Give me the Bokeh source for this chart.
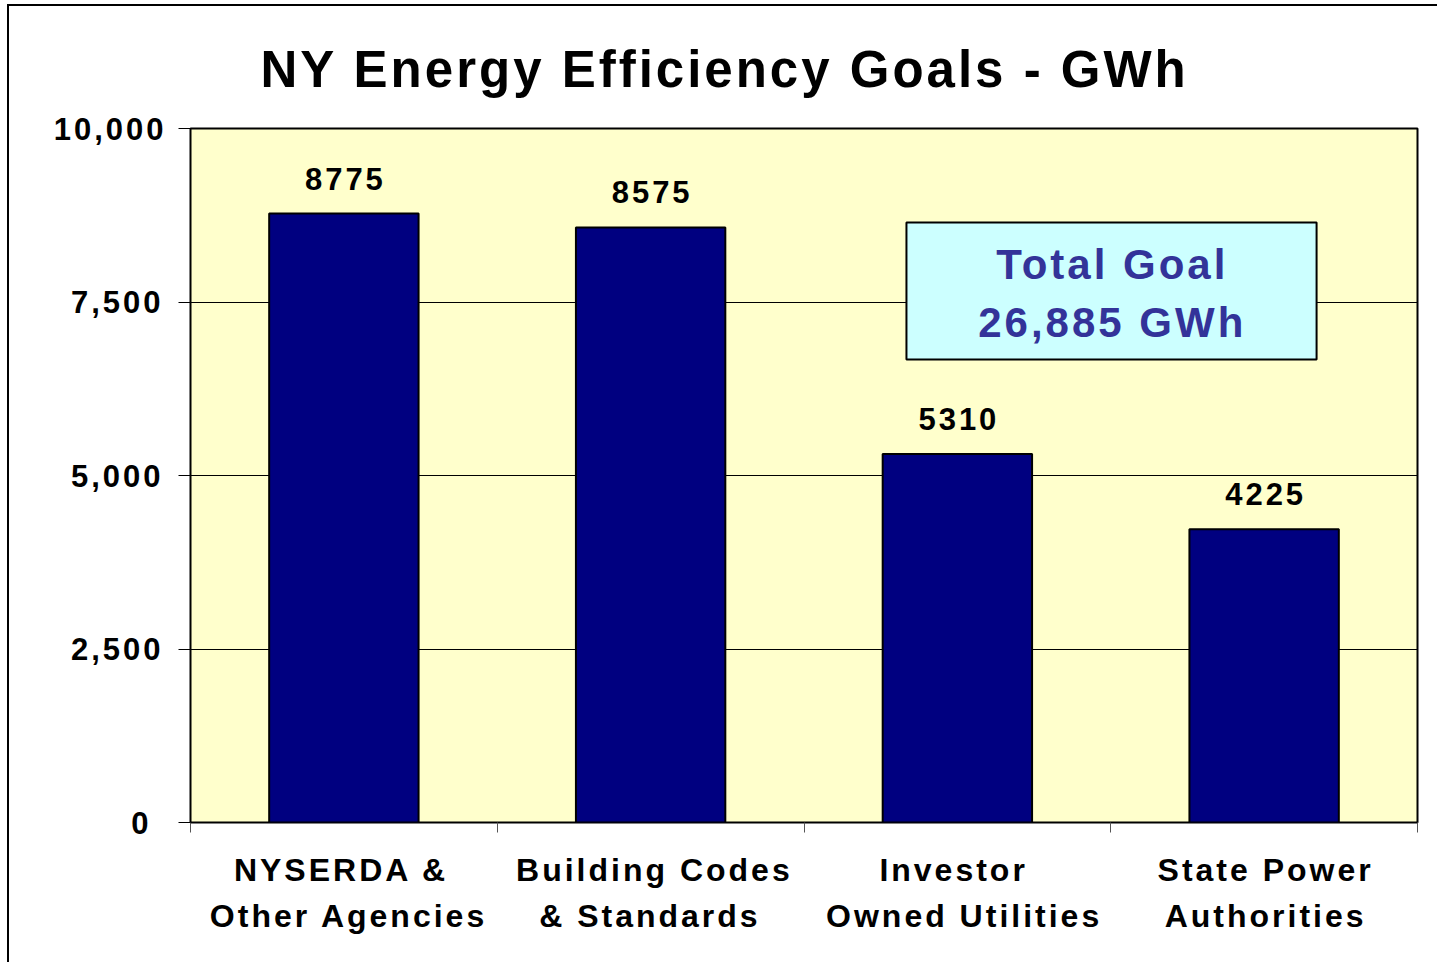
import numpy as np
from bokeh.plotting import figure
from bokeh.models import Range1d, FixedTicker, NumeralTickFormatter, BoxAnnotation, Label, ColumnDataSource, Title
from bokeh.core.properties import value
from bokeh.embed import file_html
from bokeh.resources import INLINE

# ---- data ----
categories = ["NYSERDA & Other Agencies", "Building Codes & Standards",
              "Investor Owned Utilities", "State Power Authorities"]
category_labels = ["NYSERDA &\nOther Agencies", "Building Codes\n& Standards",
                   "Investor\nOwned Utilities", "State Power\nAuthorities"]
values = [8775, 8575, 5310, 4225]
y_ticks = [0, 2500, 5000, 7500, 10000]
title_text = "NY Energy Efficiency Goals - GWh"
total = sum(values)

FONT = "Liberation Sans"
SPACING = 3  # px letter spacing (applied through CSS)
n = len(categories)
centers = [i + 0.5 for i in range(n)]
FRAME_W = 1227
px = n / FRAME_W  # data units per pixel in x


def center_fix(text):
    lines = text.split("\n")
    return -np.mean([(len(l) - 1) * SPACING / 2 for l in lines])


p = figure(width=1430, height=958, output_backend="svg", toolbar_location=None,
           x_range=Range1d(0, n), y_range=Range1d(0, 10000),
           min_border_left=181, min_border_top=122, min_border_right=22,
           min_border_bottom=142)
p.margin = (4, 0, 0, 7)
p.styles = {"border-left": "2px solid black", "border-top": "2px solid black",
            "letter-spacing": f"{SPACING}px"}

p.background_fill_color = "#FFFFCC"
p.border_fill_color = "white"
p.outline_line_color = "black"
p.outline_line_width = 2

# title
p.title = Title(text=title_text, align="left", offset=70, text_font=FONT,
                text_font_size="51px", text_font_style="bold", text_color="black",
                standoff=62)

# grid
p.xgrid.visible = False
p.ygrid.ticker = FixedTicker(ticks=y_ticks)
p.ygrid.grid_line_color = "black"
p.ygrid.grid_line_width = 1

# y axis
ya = p.yaxis[0]
ya.ticker = FixedTicker(ticks=y_ticks)
ya.formatter = NumeralTickFormatter(format="0,0")
ya.axis_line_color = None
ya.major_tick_out = 12
ya.major_tick_in = 0
ya.major_tick_line_color = "black"
ya.major_tick_line_width = 1
ya.minor_tick_line_color = None
ya.major_label_text_font = FONT
ya.major_label_text_font_size = "31px"
ya.major_label_text_font_style = "bold"
ya.major_label_text_color = "black"
ya.major_label_standoff = 30

# x axis: labels at bar centres (nudged for letter spacing), ticks at boundaries
label_ticks = [c + center_fix(lab) * px for c, lab in zip(centers, category_labels)]
xa = p.xaxis[0]
xa.ticker = FixedTicker(ticks=label_ticks, minor_ticks=list(range(n + 1)))
xa.major_label_overrides = {t: lab for t, lab in zip(label_ticks, category_labels)}
xa.axis_line_color = None
xa.major_tick_line_color = None
xa.major_tick_out = 0
xa.major_tick_in = 0
xa.minor_tick_out = 10
xa.minor_tick_in = 0
xa.minor_tick_line_color = "#555555"
xa.minor_tick_line_width = 1
xa.major_label_text_font = FONT
xa.major_label_text_font_size = "32px"
xa.major_label_text_font_style = "bold"
xa.major_label_text_color = "black"
xa.major_label_text_line_height = 1.3
xa.major_label_standoff = 19

# bars
labels = [str(v) for v in values]
src = ColumnDataSource(dict(x=centers, top=values, label=labels,
                            xoff=[center_fix(l) for l in labels]))
p.vbar(x="x", top="top", bottom=0, width=0.487, source=src,
       fill_color="#000080", line_color="black", line_width=2)
p.text(x="x", y="top", text="label", source=src, text_align="center",
       text_baseline="alphabetic", x_offset="xoff", y_offset=-35, text_font=value(FONT),
       text_font_size="31px", text_font_style="bold", text_color="black")

# total box
box = BoxAnnotation(left=2.334, right=3.671, bottom=6671, top=8646,
                    fill_color="#CCFFFF", fill_alpha=1, line_color="black",
                    line_width=2, line_alpha=1)
p.add_layout(box)
line1 = "Total Goal"
line2 = f"{total:,} GWh"
p.add_layout(Label(x=3.0, y=8040, text=line1, x_offset=center_fix(line1),
                   text_align="center", text_baseline="alphabetic", text_font=FONT,
                   text_font_size="42px", text_font_style="bold", text_color="#333399"))
p.add_layout(Label(x=3.0, y=7204, text=line2, x_offset=center_fix(line2),
                   text_align="center", text_baseline="alphabetic", text_font=FONT,
                   text_font_size="42px", text_font_style="bold", text_color="#333399"))

open("out.html", "w").write(file_html(p, INLINE))
